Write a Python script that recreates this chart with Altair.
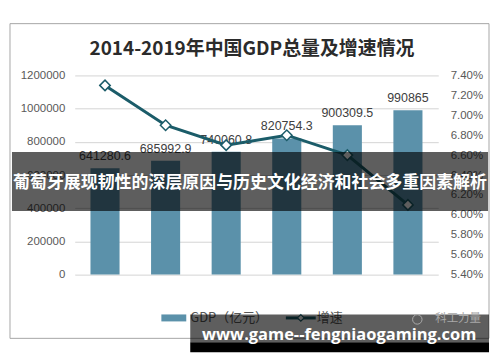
import altair as alt
import pandas as pd

years = ["2014", "2015", "2016", "2017", "2018", "2019"]
gdp = [641280.6, 685992.9, 740060.8, 820754.3, 900309.5, 990865]
growth = [7.3, 6.9, 6.7, 6.8, 6.6, 6.1]
gdp_labels = [str(v) for v in gdp]
gdp_ticks = [0, 200000, 400000, 600000, 800000, 1000000, 1200000]
growth_ticks = [5.4, 5.6, 5.8, 6.0, 6.2, 6.4, 6.6, 6.8, 7.0, 7.2, 7.4]
title_text = "2014-2019年中国GDP总量及增速情况"
legend_labels = ["GDP（亿元）", "增速"]
watermark = "科工力量"
banner_text = "葡萄牙展现韧性的深层原因与历史文化经济和社会多重因素解析"
url_text = "www.game--fengniaogaming.com"

BAR = "#5b91aa"
LINE = "#1b5c69"
TXT = "#595959"
FONT = "Liberation Sans"
CJK = "Noto Sans CJK SC"

df = pd.DataFrame({"year": years, "gdp": gdp, "growth": growth, "label": gdp_labels})
one = alt.Data(values=[{}])

xenc = alt.X("year:N", sort=years,
             scale=alt.Scale(paddingInner=0.52, paddingOuter=0.26),
             axis=alt.Axis(title=None, labelAngle=0, ticks=False, domain=False,
                           labelPadding=8, labelFontSize=12, labelColor=TXT, labelFont=FONT))
xnone = alt.X("year:N", sort=years, bandPosition=0.5,
              scale=alt.Scale(paddingInner=0.52, paddingOuter=0.26), axis=None)

ygdp_scale = alt.Scale(domain=[0, 1200000], nice=False, zero=True)
ygr_scale = alt.Scale(domain=[5.4, 7.4], nice=False, zero=False)

bars = alt.Chart(df).mark_bar(color=BAR).encode(
    x=xenc,
    y=alt.Y("gdp:Q", scale=ygdp_scale,
            axis=alt.Axis(values=gdp_ticks, format="d", orient="left", title=None,
                          grid=True, gridColor="#d4d4d4", domain=False, ticks=False,
                          labelPadding=10, labelFontSize=11.5, labelColor=TXT, labelFont=FONT)),
)

labels = alt.Chart(df).mark_text(dy=-12, baseline="middle", fontSize=12.5, color="#404040", font=FONT).encode(
    x=xnone,
    y=alt.Y("gdp:Q", scale=ygdp_scale, axis=None),
    text="label:N",
)

line = alt.Chart(df).mark_line(color=LINE, strokeWidth=3).encode(
    x=xnone,
    y=alt.Y("growth:Q", scale=ygr_scale,
            axis=alt.Axis(values=growth_ticks, labelExpr="format(datum.value, '.2f') + '%'",
                          orient="right", title=None, grid=False, domain=False, ticks=False,
                          labelPadding=12, labelFontSize=11.5, labelColor=TXT, labelFont=FONT)),
)

points = alt.Chart(df).mark_point(shape="diamond", filled=True, fill="white", stroke=LINE,
                                  strokeWidth=1.5, size=110, opacity=1).encode(
    x=xnone,
    y=alt.Y("growth:Q", scale=ygr_scale, axis=None),
)

frame = alt.Chart(one).mark_rect(fillOpacity=0, stroke="#a6a6a6", strokeWidth=1).encode(
    x=alt.value(-65), x2=alt.value(416), y=alt.value(-52), y2=alt.value(264))

title = alt.Chart(one).mark_text(fontSize=19, fontWeight="bold", color="#2b2b2b", font=CJK,
                                 baseline="middle", align="center").encode(
    x=alt.value(178), y=alt.value(-27), text=alt.value(title_text))

leg_rect = alt.Chart(one).mark_rect(color=BAR).encode(
    x=alt.value(87), x2=alt.value(112), y=alt.value(240), y2=alt.value(247))
leg_t1 = alt.Chart(one).mark_text(fontSize=13, color=TXT, font=CJK, align="left", baseline="middle").encode(
    x=alt.value(116), y=alt.value(243.5), text=alt.value(legend_labels[0]))
leg_line = alt.Chart(one).mark_rule(color=LINE, strokeWidth=3).encode(
    x=alt.value(212), x2=alt.value(242), y=alt.value(243.5))
leg_pt = alt.Chart(one).mark_point(shape="diamond", filled=True, fill="white", stroke=LINE,
                                   strokeWidth=1.2, size=45, opacity=1).encode(
    x=alt.value(227), y=alt.value(243.5))
leg_t2 = alt.Chart(one).mark_text(fontSize=13, color=TXT, font=CJK, align="left", baseline="middle").encode(
    x=alt.value(243), y=alt.value(243.5), text=alt.value(legend_labels[1]))

mid_rect = alt.Chart(one).mark_rect(color="black", opacity=0.63).encode(
    x=alt.value(-63), x2=alt.value(415), y=alt.value(77), y2=alt.value(136))
mid_text = alt.Chart(one).mark_text(fontSize=17, fontWeight="bold", color="white", font=CJK,
                                    align="center", baseline="middle").encode(
    x=alt.value(176), y=alt.value(108), text=alt.value(banner_text))

bot_rect = alt.Chart(one).mark_rect(color="black", opacity=0.63).encode(
    x=alt.value(116), x2=alt.value(416), y=alt.value(240), y2=alt.value(268))
bot_black = alt.Chart(one).mark_rect(color="black").encode(
    x=alt.value(116), x2=alt.value(416), y=alt.value(268), y2=alt.value(278))
wm_icon = alt.Chart(one).mark_point(shape="circle", filled=False, stroke="#a8a8a8", size=90,
                                    strokeWidth=1, opacity=1).encode(
    x=alt.value(344), y=alt.value(245))
wm_text = alt.Chart(one).mark_text(fontSize=11.5, color="#a8a8a8", font=CJK, align="left",
                                   baseline="middle").encode(
    x=alt.value(362), y=alt.value(245), text=alt.value(watermark))
url = alt.Chart(one).mark_text(fontSize=16.5, fontWeight="bold", color="white", font="Open Sans",
                               align="center", baseline="middle").encode(
    x=alt.value(265.5), y=alt.value(261), text=alt.value(url_text))

chart = alt.layer(
    bars, labels, line, points,
    frame, title, leg_rect, leg_t1, leg_line, leg_pt, leg_t2,
    mid_rect, mid_text, bot_rect, bot_black, wm_icon, wm_text, url,
).resolve_scale(y="independent").properties(
    width=365, height=200,
    padding={"left": 67, "top": 67, "right": 54, "bottom": 79},
    autosize=alt.AutoSizeParams(type="none"),
    background="white",
).configure_view(stroke=None)

chart.save("out.html", embed_options={"renderer": "svg", "actions": False})
